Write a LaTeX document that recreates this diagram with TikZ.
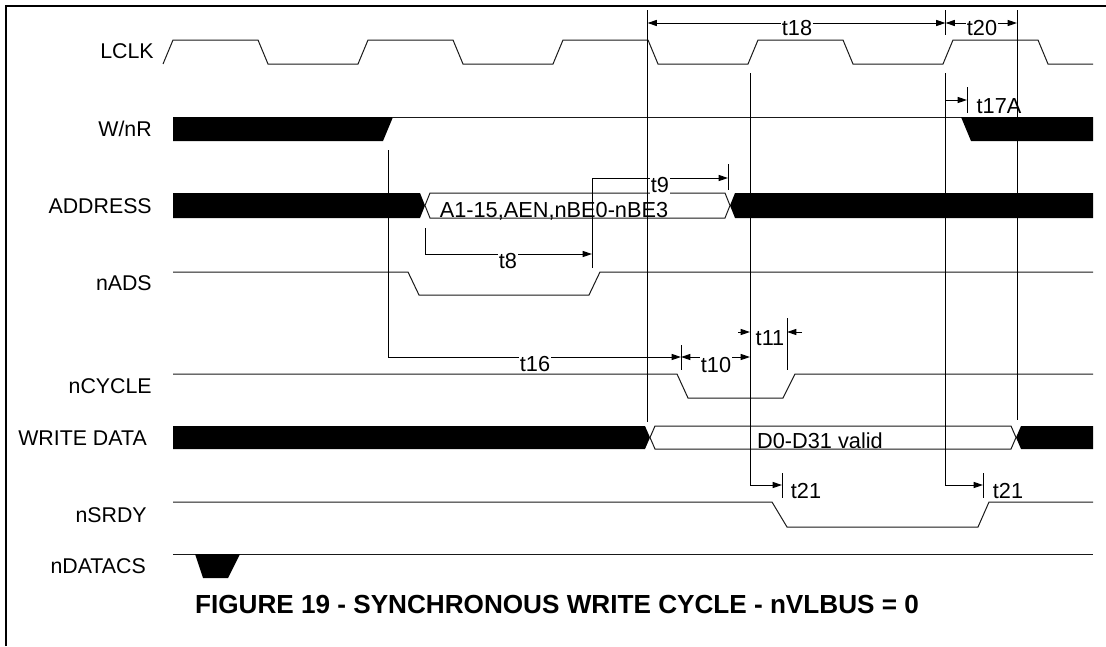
\documentclass[tikz,border=0pt]{standalone}
\usepackage{fontspec}
\setmainfont{Liberation Sans}
\usetikzlibrary{arrows.meta,positioning}

\begin{document}
\begin{tikzpicture}[
    x=0.75pt,y=-0.75pt,
    sig/.style={line width=0.75pt,black!90},
    bus/.style={fill=black},
    tline/.style={line width=0.7pt},
    arrow/.style={-{Triangle[length=7pt,width=4.5pt]},line width=0.7pt},
    darrow/.style={{Triangle[length=7pt,width=4.5pt]}-{Triangle[length=7pt,width=4.5pt]},line width=0.7pt},
    signame/.style={anchor=base east,inner sep=0pt,font=\fontsize{16}{18}\selectfont},
    tlabel/.style={anchor=base,fill=white,inner sep=1pt,font=\fontsize{16.3}{18}\selectfont},
    buslabel/.style={anchor=base,inner sep=0pt,font=\fontsize{16.3}{18}\selectfont}
  ]
    \useasboundingbox (0,0) rectangle (1106,646);
    \draw[line width=1.5pt] (5.5,646) -- (5.5,5.5) -- (1106,5.5);

    % signal names
    \node[signame] (lclk) at (154,58) {LCLK};
    \node[signame] (wnr) at (152,136) {W/nR};
    \node[signame] (addr) at (152,213) {ADDRESS};
    \node[signame] (nads) at (152,290) {nADS};
    \node[signame] (ncycle) at (152,393) {nCYCLE};
    \node[signame] (wdata) at (147,445) {WRITE DATA};
    \node[signame] (nsrdy) at (147,522) {nSRDY};
    \node[signame] (ndatacs) at (146,573) {nDATACS};

    % waveforms
    \draw[sig] (163,64) -- (173,40) -- (258,40) -- (268,64) -- (358,64) -- (368,40) -- (453,40) -- (463,64)
      -- (553,64) -- (563,40) -- (648,40) -- (658,64) -- (748,64) -- (758,40) -- (843,40) -- (853,64)
      -- (943,64) -- (953,40) -- (1038,40) -- (1048,64) -- (1093,64);

    \fill[bus] (173,117) -- (393,117) -- (383,141) -- (173,141) -- cycle;
    \draw[sig] (393,117) -- (1093,117);
    \fill[bus] (961,117) -- (1093,117) -- (1093,141) -- (971,141) -- cycle;

    \fill[bus] (173,193) -- (420,193) -- (425,205.5) -- (420,218) -- (173,218) -- cycle;
    \draw[sig] (425,205.5) -- (430,193) -- (725,193) -- (730,205.5) -- (725,218) -- (430,218) -- cycle;
    \fill[bus] (735,193) -- (1093,193) -- (1093,218) -- (735,218) -- (730,205.5) -- cycle;
    \node[buslabel] (avalid) at (554,217) {A1-15,AEN,nBE0-nBE3};

    \draw[sig] (173,272) -- (408,272) -- (419,295) -- (589,295) -- (600,272) -- (1093,272);

    \draw[sig] (173,374) -- (677,374) -- (688,398) -- (783,398) -- (795,374) -- (1093,374);

    \fill[bus] (173,426) -- (645,426) -- (650,437.5) -- (645,449) -- (173,449) -- cycle;
    \draw[sig] (650,437.5) -- (655,426) -- (1011,426) -- (1016,437.5) -- (1011,449) -- (655,449) -- cycle;
    \fill[bus] (1021,426) -- (1093,426) -- (1093,449) -- (1021,449) -- (1016,437.5) -- cycle;
    \node[buslabel] (dvalid) at (820,448) {D0-D31 valid};

    \draw[sig] (173,502) -- (772,502) -- (787,527) -- (978,527) -- (989,502) -- (1093,502);

    \draw[sig] (173,554) -- (1093,554);
    \fill[bus] (195,554) -- (240,554) -- (228,578) -- (203,578) -- cycle;

    % timing references
    \coordinate (wfall) at (388,150);
    \coordinate (t16end) at (681,357);
    \coordinate (clk3) at (647.5,10);
    \coordinate (clk3r) at (750,73);
    \coordinate (clk4) at (945.5,10);
    \coordinate (clk4r) at (945.5,73);
    \coordinate (clk4f) at (1017,10);
    \coordinate (adsup) at (592,268);
    \coordinate (avl) at (425,228);

    % vertical reference lines
    \draw[tline] (clk3) -- (647.5,422);
    \draw[tline] (clk4) -- (945.5,35);
    \draw[tline] (clk4f) -- (1017,420);

    % t16 / t10 / t11
    \draw[arrow] (wfall) |- (t16end);
    \draw[tline] (681,345) -- (681,370);
    \draw[darrow] (t16end) -- (750,357);
    \node[tlabel] (lt16) at (535,371.5) {t16};
    \node[tlabel] (lt10) at (716,372) {t10};
    \draw[arrow] (738,332) -- (750,332);
    \draw[tline] (787,318) -- (787,370);
    \draw[arrow] (802,332) -- (787,332);
    \node[buslabel] (lt11) at (770,345) {t11};

    % t18 / t20
    \draw[darrow] (647.5,23) -- (945.5,23);
    \draw[darrow] (945.5,23) -- (1017,23);
    \node[tlabel] (lt18) at (797,35) {t18};
    \node[tlabel] (lt20) at (982,35) {t20};

    % t17A
    \draw[arrow] (945.5,100) -- (967,100);
    \draw[tline] (967,87) -- (967,113);
    \node[buslabel] (lt17) at (999,113) {t17A};

    % t8 / t9
    \draw[arrow] (avl) |- (592,254);
    \node[tlabel] (lt8) at (508,268) {t8};
    \draw[arrow] (adsup) |- (728,178);
    \draw[tline] (728,164) -- (728,190);
    \node[tlabel] (lt9) at (660,192) {t9};

    % t21
    \draw[arrow] (clk3r) |- (782,485);
    \draw[tline] (782,473) -- (782,498);
    \node[buslabel] (lt21a) at (806,498) {t21};
    \draw[arrow] (clk4r) |- (983,485);
    \draw[tline] (983,473) -- (983,498);
    \node[buslabel] (lt21b) at (1008,498) {t21};

    \node[anchor=base,inner sep=0pt,font=\bfseries\fontsize{19.6}{22}\selectfont] (title) at (557,613)
      {FIGURE 19 - SYNCHRONOUS WRITE CYCLE - nVLBUS = 0};
\end{tikzpicture}
\end{document}
